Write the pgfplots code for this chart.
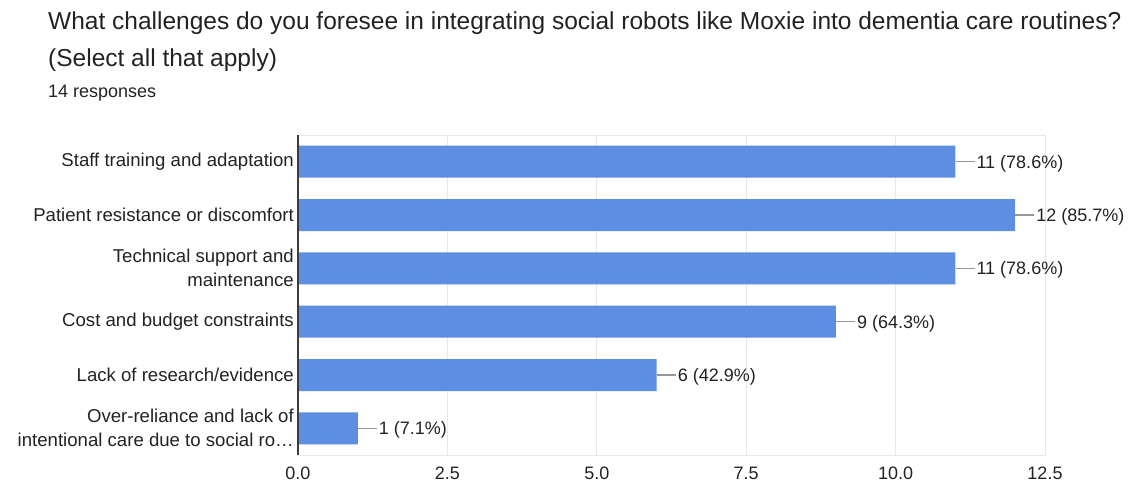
\documentclass[border=0pt]{standalone}
\usepackage{fontspec}
\setmainfont{Liberation Sans}
\usepackage{pgfplots}
\pgfplotsset{compat=1.18}
\definecolor{barblue}{RGB}{93,142,226}
\definecolor{gridgray}{RGB}{232,232,232}
\definecolor{leadgray}{RGB}{150,150,150}
\definecolor{txt}{RGB}{34,34,34}
\definecolor{axisdark}{RGB}{60,60,60}
\begin{document}
\begin{tikzpicture}[x=1pt,y=1pt]
\path[use as bounding box] (0,0) rectangle (1135,-493);
\node[anchor=base west, inner sep=0pt, font=\fontsize{24.5}{29}\selectfont, text=txt] at (48,-29) {What challenges do you foresee in integrating social robots like Moxie into dementia care routines?};
\node[anchor=base west, inner sep=0pt, font=\fontsize{24.5}{29}\selectfont, text=txt] at (48,-66) {(Select all that apply)};
\node[anchor=base west, inner sep=0pt, font=\fontsize{18}{21}\selectfont, text=txt] at (48,-97) {14 responses};
\begin{axis}[
  at={(298pt,-455pt)}, anchor=south west,
  scale only axis, width=747pt, height=320pt,
  xbar, bar width=32pt, bar shift=0pt,
  xmin=0, xmax=12.5, ymin=0.5, ymax=6.5, y dir=reverse,
  xtick={0,2.5,5,7.5,10,12.5},
  xticklabel style={/pgf/number format/fixed, /pgf/number format/fixed zerofill, /pgf/number format/precision=1, /pgf/number format/assume math mode=true, font=\fontsize{18}{21}\selectfont, text=txt, inner sep=0pt, yshift=-12pt},
  ytick={1,2,3,4,5,6},
  yticklabels={Staff training and adaptation, Patient resistance or discomfort, {Technical support and\\maintenance}, Cost and budget constraints, Lack of research/evidence, {Over-reliance and lack of\\intentional care due to social ro\dots}},
  yticklabel style={align=right, font=\fontsize{18.6}{24}\selectfont, text=txt, inner sep=0pt, xshift=-4pt},
  major tick length=0pt,
  xmajorgrids, grid style={gridgray, line width=1pt},
  axis line style={gridgray, line width=1pt},
  point meta=explicit symbolic,
  nodes near coords={\textcolor{leadgray}{\rule[5.9pt]{19pt}{1.2pt}}\hspace{2pt}\pgfplotspointmeta},
  nodes near coords style={anchor=base west, inner sep=0pt, yshift=-6.5pt, font=\fontsize{18}{21}\selectfont, text=txt},
  clip=false,
]
\addplot[draw=none, fill=barblue] coordinates {
  (11,1) [11 (78.6\%)]
  (12,2) [12 (85.7\%)]
  (11,3) [11 (78.6\%)]
  (9,4) [9 (64.3\%)]
  (6,5) [6 (42.9\%)]
  (1,6) [1 (7.1\%)]
};
\draw[axisdark, line width=1.5pt] (rel axis cs:0,0) -- (rel axis cs:0,1);
\end{axis}
\end{tikzpicture}
\end{document}
